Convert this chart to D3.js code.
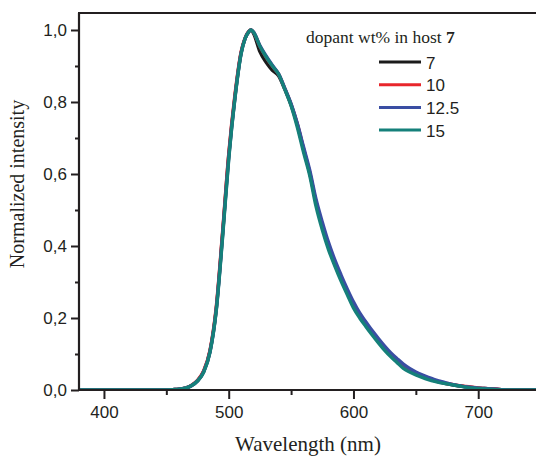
<!DOCTYPE html>
<html><head><meta charset="utf-8">
<script src="https://cdn.jsdelivr.net/npm/d3@7"></script>
<style>body{margin:0;background:#fff}svg{display:block}</style>
</head><body><svg id="c" width="536" height="456"></svg>
<script>
const wavelengths = [380,390,400,410,420,430,440,450,455,460,465,470,475,480,485,490,495,500,505,510,513,516,518,520,525,530,535,540,545,550,555,560,565,570,575,580,585,590,595,600,605,610,615,620,625,630,635,640,645,650,655,660,665,670,675,680,685,690,695,700,705,710,715,720,730,740,750];
const s7   = [0,0,0,0,0,0,0,0,0.001,0.002,0.005,0.012,0.026,0.052,0.108,0.225,0.43,0.65,0.815,0.938,0.975,0.995,1.0,0.99,0.94,0.91,0.888,0.873,0.835,0.792,0.737,0.668,0.602,0.52,0.456,0.4,0.353,0.311,0.273,0.238,0.207,0.182,0.158,0.137,0.116,0.097,0.081,0.066,0.055,0.046,0.039,0.032,0.026,0.021,0.017,0.014,0.011,0.009,0.007,0.005,0.004,0.003,0.002,0.001,0,0,0];
const s10  = [0,0,0,0,0,0,0,0,0.001,0.002,0.005,0.013,0.027,0.054,0.11,0.23,0.435,0.655,0.82,0.94,0.977,0.996,1.0,0.993,0.955,0.925,0.9,0.877,0.837,0.793,0.738,0.67,0.603,0.522,0.458,0.402,0.355,0.313,0.275,0.24,0.209,0.184,0.16,0.139,0.118,0.099,0.083,0.068,0.057,0.047,0.04,0.033,0.027,0.022,0.018,0.015,0.012,0.01,0.008,0.006,0.004,0.003,0.002,0.001,0,0,0];
const s12_5= [0,0,0,0,0,0,0,0,0.001,0.002,0.005,0.012,0.025,0.051,0.106,0.222,0.425,0.645,0.812,0.936,0.975,0.995,1.0,0.994,0.957,0.928,0.902,0.878,0.838,0.795,0.74,0.675,0.61,0.53,0.467,0.41,0.362,0.32,0.281,0.245,0.214,0.189,0.165,0.143,0.122,0.103,0.087,0.072,0.06,0.05,0.042,0.035,0.029,0.024,0.019,0.015,0.012,0.009,0.007,0.005,0.004,0.003,0.002,0.001,0,0,0];
const s15  = [0,0,0,0,0,0,0,0,0.001,0.002,0.005,0.012,0.025,0.05,0.105,0.22,0.42,0.64,0.81,0.935,0.975,0.995,1.0,0.993,0.955,0.925,0.9,0.877,0.835,0.79,0.73,0.66,0.595,0.51,0.445,0.39,0.345,0.303,0.265,0.228,0.2,0.176,0.153,0.131,0.11,0.092,0.076,0.06,0.05,0.042,0.035,0.029,0.024,0.02,0.017,0.014,0.011,0.008,0.006,0.004,0.003,0.002,0.001,0,0,0,0];
const seriesNames = ["7","10","12.5","15"];
const seriesColors = ["#1b1b1b","#e8262b","#3a4ea3","#15807a"];
const seriesValues = [s7, s10, s12_5, s15];
const xTicks = [400,500,600,700];
const xMinor = [450,550,650];
const yTicks = [0,0.2,0.4,0.6,0.8,1.0];
const yMinor = [0.1,0.3,0.5,0.7,0.9];
const legendTitle = "dopant wt% in host ";
const legendTitleBold = "7";
const xLabel = "Wavelength (nm)";
const yLabel = "Normalized intensity";

const svg = d3.select("#c");
const L = 79, T = 13, B = 390, R = 540.6;
const x = d3.scaleLinear().domain([380,750]).range([L,R]);
const y = d3.scaleLinear().domain([0,1.0472]).range([B,T]);
const ink = "#231f20";
const sans = "'Liberation Sans', Arial, sans-serif";
const serif = "'Liberation Serif', 'Times New Roman', serif";

svg.append("defs").append("clipPath").attr("id","clip").append("rect")
  .attr("x",L).attr("y",T).attr("width",R-L).attr("height",B-T);

const line = d3.line().curve(d3.curveMonotoneX).x((d,i)=>x(wavelengths[i])).y(d=>y(d));
const g = svg.append("g").attr("clip-path","url(#clip)");
seriesValues.forEach((vals,k)=>{
  g.append("path").datum(vals).attr("d",line).attr("fill","none")
   .attr("stroke",seriesColors[k]).attr("stroke-width",3.4).attr("stroke-linejoin","round");
});

const fmt = d => d3.format(".1f")(d).replace(".",",");
// y axis
const ya = svg.append("g").attr("transform",`translate(${L},0)`)
  .call(d3.axisLeft(y).tickValues(yTicks).tickFormat(fmt).tickSize(8).tickSizeOuter(0).tickPadding(4));
ya.append("g").call(d3.axisLeft(y).tickValues(yMinor).tickFormat("").tickSize(4).tickSizeOuter(0))
  .select(".domain").remove();
// x axis
const xa = svg.append("g").attr("transform",`translate(0,${B})`)
  .call(d3.axisBottom(x).tickValues(xTicks).tickFormat(d3.format("d")).tickSize(9).tickSizeOuter(0).tickPadding(7));
xa.append("g").call(d3.axisBottom(x).tickValues(xMinor).tickFormat("").tickSize(5).tickSizeOuter(0))
  .select(".domain").remove();
[ya,xa].forEach(a=>{
  a.selectAll("path.domain").attr("stroke",ink).attr("stroke-width",2.2);
  a.selectAll("line").attr("stroke",ink).attr("stroke-width",2);
  a.selectAll("text").attr("fill","#231f20").style("font-family",sans).style("font-size","17px");
});
ya.select(".domain").attr("d",`M0,${B+1}V${T}`);
xa.select(".domain").attr("d",`M${L-1},0H536`);
// top frame
svg.append("line").attr("x1",L-1).attr("x2",536).attr("y1",T).attr("y2",T)
  .attr("stroke",ink).attr("stroke-width",2.2);

// axis titles
svg.append("text").attr("x",308).attr("y",451).attr("text-anchor","middle")
  .style("font-family",serif).style("font-size","21px").attr("fill",ink).text(xLabel);
svg.append("text").attr("transform","translate(24,184) rotate(-90)").attr("text-anchor","middle")
  .style("font-family",serif).style("font-size","20px").attr("fill",ink).text(yLabel);

// legend
const lt = svg.append("text").attr("x",306).attr("y",43)
  .style("font-family",serif).style("font-size","17.5px").attr("fill",ink);
lt.append("tspan").text(legendTitle);
lt.append("tspan").attr("font-weight","bold").text(legendTitleBold);
seriesNames.forEach((n,k)=>{
  const yy = 62 + k*22.7;
  svg.append("line").attr("x1",379).attr("x2",421).attr("y1",yy).attr("y2",yy)
    .attr("stroke",seriesColors[k]).attr("stroke-width",3);
  svg.append("text").attr("x",426).attr("y",yy+6.5).text(n)
    .style("font-family",sans).style("font-size","17px").attr("fill",ink);
});
</script></body></html>
